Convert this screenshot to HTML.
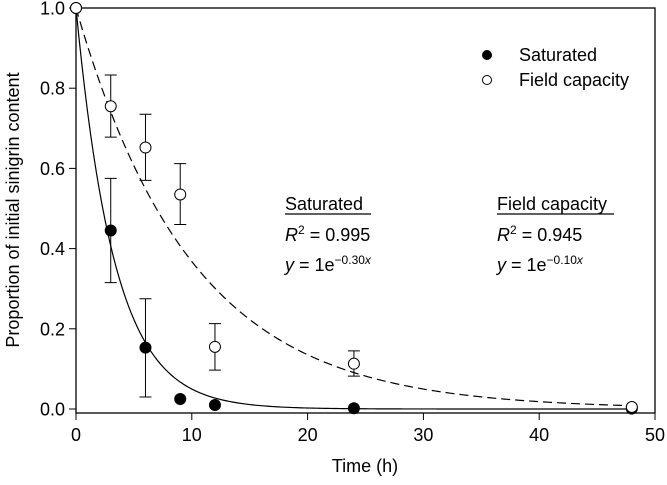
<!DOCTYPE html>
<html><head><meta charset="utf-8"><style>
body{margin:0;background:#fff;}
svg text{font-family:"Liberation Sans",Arial,sans-serif;fill:#000;}
</style></head><body>
<svg width="667" height="480" viewBox="0 0 667 480">
<g id="frame"></g>
<g id="marks"></g>
<g>
<circle cx="487" cy="55" r="5" fill="#000"/>
<text x="519" y="61" font-size="18">Saturated</text>
<circle cx="487" cy="80" r="4.5" fill="#fff" stroke="#000"/>
<text x="519" y="86" font-size="18">Field capacity</text>
</g>
<g font-size="18">
<text x="285" y="210">Saturated</text>
<line x1="285" y1="214" x2="371" y2="214" stroke="#000" stroke-width="1.2"/>
<text x="285" y="241"><tspan font-style="italic">R</tspan><tspan font-size="12" dy="-7">2</tspan><tspan dy="7"> = 0.995</tspan></text>
<text x="285" y="271"><tspan font-style="italic">y</tspan> = 1e<tspan font-size="12" dy="-7">−0.30</tspan><tspan font-size="12" font-style="italic">x</tspan></text>
</g>
<g font-size="18">
<text x="497" y="210">Field capacity</text>
<line x1="497" y1="214" x2="614" y2="214" stroke="#000" stroke-width="1.2"/>
<text x="497" y="241"><tspan font-style="italic">R</tspan><tspan font-size="12" dy="-7">2</tspan><tspan dy="7"> = 0.945</tspan></text>
<text x="497" y="271"><tspan font-style="italic">y</tspan> = 1e<tspan font-size="12" dy="-7">−0.10</tspan><tspan font-size="12" font-style="italic">x</tspan></text>
</g>
<text x="365" y="472" font-size="18" text-anchor="middle">Time (h)</text>
<text transform="translate(19,210) rotate(-90)" font-size="18" text-anchor="middle">Proportion of initial sinigrin content</text>
</svg>
<script>
const xTicks=[0,10,20,30,40,50];
const yTicks=[0,0.2,0.4,0.6,0.8,1.0];
const yTickLabels=["0.0","0.2","0.4","0.6","0.8","1.0"];
const times=[0,3,6,9,12,24,48];
const satMean=[1,0.445,0.153,0.025,0.01,0.002,0.001];
const satLo=[1,0.315,0.03,0.02,0.008,0.002,0.001];
const satHi=[1,0.575,0.275,0.03,0.012,0.002,0.001];
const fcMean=[1,0.755,0.652,0.535,0.155,0.113,0.005];
const fcLo=[1,0.678,0.57,0.46,0.097,0.082,0.005];
const fcHi=[1,0.833,0.735,0.612,0.213,0.145,0.005];
const satRate=0.30, fcRate=0.10;
const X=v=>76+v*(655-76)/50;
const Y=v=>409-v*(409-8);
const NS="http://www.w3.org/2000/svg";
function mk(tag,attrs,parent){const e=document.createElementNS(NS,tag);for(const k in attrs)e.setAttribute(k,attrs[k]);parent.appendChild(e);return e;}
const frame=document.getElementById('frame'),marks=document.getElementById('marks');
let r=mk('rect',{x:76,y:8,width:579,height:405,fill:'none',stroke:'#000','stroke-width':1.3},frame);


xTicks.forEach(t=>{
 let l=mk('line',{x1:X(t),x2:X(t),y1:413,y2:420,stroke:'#000'},frame);
 
 
 let tx=mk('text',{x:X(t),y:441,'font-size':18,'text-anchor':'middle'},frame);tx.textContent=t;
 
 
});
yTicks.forEach((t,i)=>{
 let l=mk('line',{x1:69,x2:76,y1:Y(t),y2:Y(t),stroke:'#000'},frame);
 
 
 let tx=mk('text',{x:65,y:Y(t)+6.5,'font-size':18,'text-anchor':'end'},frame);tx.textContent=yTickLabels[i];
 
 
});
function curve(rate,dash,name){let d='';for(let t=0;t<=48;t+=0.25){d+=(t?'L':'M')+X(t).toFixed(2)+','+Y(Math.exp(-rate*t)).toFixed(2);}
 let p=mk('path',{d:d,fill:'none',stroke:'#000','stroke-width':1.2},marks);if(dash)p.setAttribute('stroke-dasharray','9,5');
 
 }
curve(fcRate,true,'field-fit-curve');
curve(satRate,false,'saturated-fit-curve');
function series(m,lo,hi,fill,name){times.forEach((t,i)=>{
 if(hi[i]-lo[i]>0.01){let g=mk('path',{d:`M${X(t)},${Y(lo[i])}V${Y(hi[i])}M${X(t)-6},${Y(lo[i])}h12M${X(t)-6},${Y(hi[i])}h12`,stroke:'#000',fill:'none'},marks);
 
 }
 let c=mk('circle',{cx:X(t),cy:Y(m[i]),r:5.5,fill:fill,stroke:'#000'},marks);
 
 });}
series(satMean,satLo,satHi,'#000','saturated');
series(fcMean,fcLo,fcHi,'#fff','field');
</script>
</body></html>
